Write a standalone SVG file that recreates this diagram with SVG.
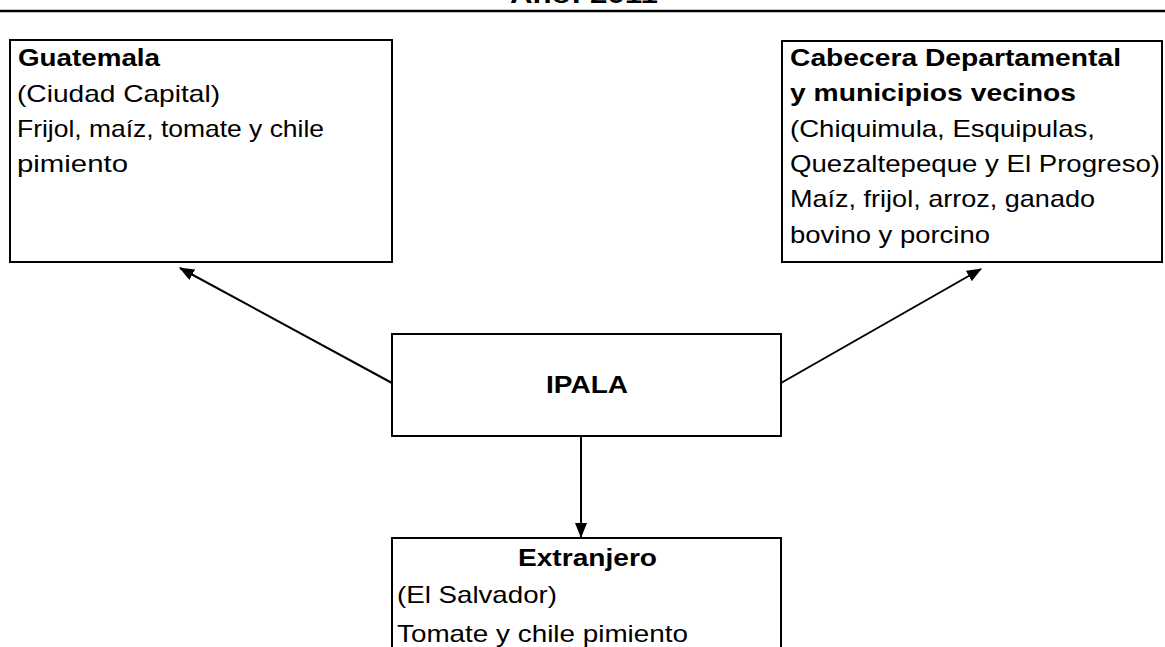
<svg xmlns="http://www.w3.org/2000/svg" width="1165" height="647" viewBox="0 0 1165 647">
<defs>
<marker id="ah" markerWidth="15" markerHeight="12" refX="14" refY="6" orient="auto" markerUnits="userSpaceOnUse" viewBox="0 0 15 12">
<path d="M0,0 L15,6 L0,12 Z" fill="#000"/>
</marker>
</defs>
<style>
.box{fill:#fff;stroke:#000;stroke-width:2}
.t{font-family:"Liberation Sans",Arial,sans-serif;font-size:24px;fill:#000}
.b{font-weight:bold}
.c{stroke:#000;stroke-width:2;fill:none;marker-end:url(#ah)}
</style>
<rect width="1165" height="647" fill="#fff"/>
<g id="title">
<text class="t b" x="510" y="3" textLength="148" lengthAdjust="spacingAndGlyphs">Año: 2011</text>
<line x1="0" y1="11" x2="1165" y2="11" stroke="#000" stroke-width="2.5"/>
</g>
<g id="connectors">
<line class="c" x1="392" y1="383" x2="180" y2="268"/>
<line class="c" x1="781" y1="383" x2="981" y2="269"/>
<line class="c" x1="581" y1="436" x2="581" y2="537"/>
</g>
<g id="guatemala">
<rect class="box" x="10" y="40" width="382" height="222"/>
<text class="t b" x="18" y="66" textLength="142" lengthAdjust="spacingAndGlyphs">Guatemala</text>
<text class="t" x="17" y="102" textLength="203" lengthAdjust="spacingAndGlyphs">(Ciudad Capital)</text>
<text class="t" x="17" y="137" textLength="307" lengthAdjust="spacingAndGlyphs">Frijol, maíz, tomate y chile</text>
<text class="t" x="17" y="172" textLength="111" lengthAdjust="spacingAndGlyphs">pimiento</text>
</g>
<g id="cabecera">
<rect class="box" x="782" y="41" width="380" height="221"/>
<text class="t b" x="790" y="66" textLength="331" lengthAdjust="spacingAndGlyphs">Cabecera Departamental</text>
<text class="t b" x="790" y="101" textLength="286" lengthAdjust="spacingAndGlyphs">y municipios vecinos</text>
<text class="t" x="790" y="137" textLength="305" lengthAdjust="spacingAndGlyphs">(Chiquimula, Esquipulas,</text>
<text class="t" x="790" y="172" textLength="370" lengthAdjust="spacingAndGlyphs">Quezaltepeque y El Progreso)</text>
<text class="t" x="790" y="207" textLength="305" lengthAdjust="spacingAndGlyphs">Maíz, frijol, arroz, ganado</text>
<text class="t" x="790" y="243" textLength="200" lengthAdjust="spacingAndGlyphs">bovino y porcino</text>
</g>
<g id="ipala">
<rect class="box" x="392" y="334" width="389" height="102"/>
<text class="t b" x="546" y="393" textLength="82" lengthAdjust="spacingAndGlyphs">IPALA</text>
</g>
<g id="extranjero">
<rect class="box" x="392" y="538" width="389" height="120"/>
<text class="t b" x="518" y="566" textLength="139" lengthAdjust="spacingAndGlyphs">Extranjero</text>
<text class="t" x="397" y="603" textLength="160" lengthAdjust="spacingAndGlyphs">(El Salvador)</text>
<text class="t" x="397" y="642" textLength="291" lengthAdjust="spacingAndGlyphs">Tomate y chile pimiento</text>
</g>
</svg>
